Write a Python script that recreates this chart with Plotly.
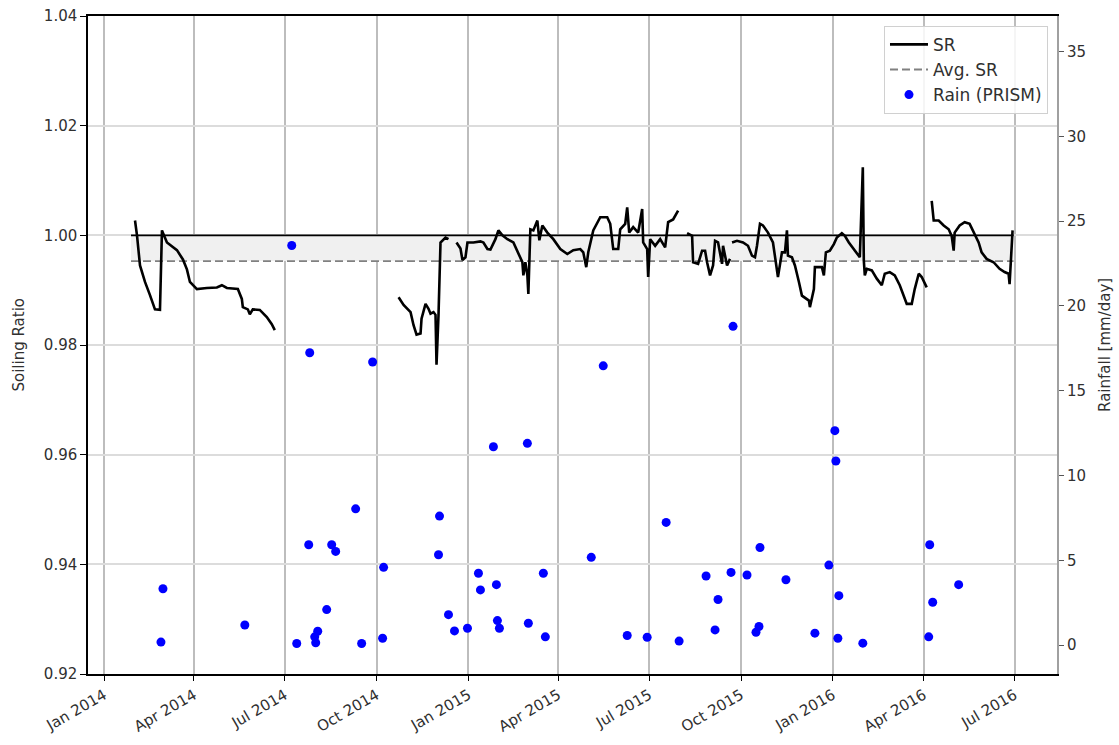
import plotly.graph_objects as go

# ---------------- data ----------------
sr_dates = [
    "2014-02-01", "2014-02-03", "2014-02-06", "2014-02-11", "2014-02-16", "2014-02-21",
    "2014-02-26", "2014-02-28", "2014-03-05", "2014-03-15", "2014-03-21", "2014-03-25",
    "2014-03-28", "2014-04-04", "2014-04-14", "2014-04-24", "2014-04-29", "2014-05-04",
    "2014-05-15", "2014-05-19", "2014-05-20", "2014-05-25", "2014-05-27", "2014-05-30",
    "2014-06-06", "2014-06-13", "2014-06-18", "2014-06-21",
    "2014-08-15",
    "2014-10-23", "2014-10-28", "2014-11-04", "2014-11-07", "2014-11-10", "2014-11-14",
    "2014-11-15", "2014-11-19", "2014-11-22", "2014-11-24", "2014-11-27", "2014-11-29",
    "2014-11-30", "2014-12-02", "2014-12-04", "2014-12-07", "2014-12-09", "2014-12-12",
    "2014-12-16",
    "2014-12-20", "2014-12-24", "2014-12-26", "2014-12-29", "2014-12-31", "2015-01-06",
    "2015-01-13", "2015-01-16", "2015-01-20", "2015-01-23", "2015-01-28", "2015-01-31",
    "2015-02-04", "2015-02-09", "2015-02-15", "2015-02-20", "2015-02-24", "2015-02-25",
    "2015-02-27", "2015-03-01", "2015-03-02", "2015-03-04", "2015-03-07", "2015-03-11",
    "2015-03-13", "2015-03-16", "2015-03-21", "2015-03-27", "2015-04-03", "2015-04-10",
    "2015-04-16", "2015-04-23", "2015-04-26", "2015-04-29", "2015-05-01", "2015-05-06",
    "2015-05-13", "2015-05-20", "2015-05-23", "2015-05-26", "2015-05-31", "2015-06-02",
    "2015-06-07", "2015-06-09", "2015-06-11", "2015-06-15", "2015-06-20", "2015-06-24",
    "2015-06-25", "2015-06-29", "2015-06-30", "2015-07-02", "2015-07-07", "2015-07-12",
    "2015-07-17", "2015-07-20", "2015-07-25", "2015-07-30",
    "2015-08-04",
    "2015-08-08", "2015-08-13", "2015-08-14", "2015-08-19", "2015-08-23", "2015-08-26",
    "2015-08-28", "2015-08-31", "2015-09-03", "2015-09-05", "2015-09-08", "2015-09-10",
    "2015-09-12", "2015-09-13", "2015-09-17", "2015-09-20",
    "2015-09-21",
    "2015-09-22", "2015-09-27", "2015-10-03", "2015-10-08", "2015-10-12", "2015-10-15",
    "2015-10-17", "2015-10-20", "2015-10-23", "2015-10-28", "2015-11-02", "2015-11-07",
    "2015-11-11", "2015-11-14", "2015-11-16", "2015-11-17", "2015-11-21", "2015-11-24",
    "2015-11-28", "2015-12-01", "2015-12-08", "2015-12-09", "2015-12-13", "2015-12-14",
    "2015-12-21", "2015-12-23", "2015-12-25", "2015-12-29", "2016-01-02", "2016-01-05",
    "2016-01-10", "2016-01-13", "2016-01-17", "2016-01-23", "2016-01-28", "2016-01-31",
    "2016-02-01", "2016-02-02", "2016-02-04", "2016-02-09", "2016-02-14", "2016-02-19",
    "2016-02-22", "2016-02-27", "2016-03-03", "2016-03-08", "2016-03-12", "2016-03-15",
    "2016-03-20", "2016-03-23", "2016-03-27", "2016-03-30", "2016-04-04",
    "2016-04-06",
    "2016-04-09", "2016-04-11", "2016-04-16", "2016-04-21", "2016-04-26", "2016-04-29",
    "2016-05-01", "2016-05-02", "2016-05-07", "2016-05-12", "2016-05-17", "2016-05-21",
    "2016-05-26", "2016-05-29", "2016-06-03", "2016-06-10", "2016-06-16", "2016-06-21",
    "2016-06-25", "2016-06-26", "2016-06-28", "2016-06-29",
]
sr_values = [
    1.0027, 1.0000, 0.9945, 0.9915, 0.9891, 0.9865,
    0.9864, 1.0009, 0.9987, 0.9973, 0.9956, 0.9938,
    0.9915, 0.9902, 0.9904, 0.9905, 0.9909, 0.9904,
    0.9902, 0.9884, 0.9869, 0.9865, 0.9856, 0.9865,
    0.9864, 0.9851, 0.9838, 0.9827,
    None,
    0.9887, 0.9873, 0.9860, 0.9836, 0.9819, 0.9821,
    0.9848, 0.9875, 0.9866, 0.9857, 0.9860, 0.9855,
    0.9764, 0.9855, 0.9987, 0.9993, 0.9996, 0.9993,
    None,
    0.9987, 0.9976, 0.9955, 0.9960, 0.9987, 0.9987,
    0.9989, 0.9987, 0.9975, 0.9974, 0.9993, 1.0009,
    1.0000, 0.9993, 0.9987, 0.9966, 0.9951, 0.9927,
    0.9951, 0.9927, 0.9893, 1.0011, 1.0009, 1.0027,
    0.9991, 1.0018, 1.0005, 0.9993, 0.9975, 0.9966,
    0.9973, 0.9975, 0.9969, 0.9942, 0.9969, 1.0009,
    1.0033, 1.0033, 1.0021, 0.9975, 0.9975, 1.0011,
    1.0021, 1.0051, 1.0005, 1.0015, 1.0005, 1.0048,
    0.9987, 0.9975, 0.9924, 0.9993, 0.9981, 0.9993,
    0.9978, 1.0024, 1.0029, 1.0045,
    None,
    1.0004, 0.9999, 0.9951, 0.9948, 0.9972, 0.9972,
    0.9951, 0.9927, 0.9945, 0.9990, 0.9987, 0.9969,
    0.9948, 0.9981, 0.9945, 0.9957,
    None,
    0.9987, 0.9990, 0.9987, 0.9981, 0.9963, 0.9960,
    0.9981, 1.0021, 1.0018, 1.0005, 0.9987, 0.9924,
    0.9969, 0.9969, 1.0009, 0.9963, 0.9960, 0.9945,
    0.9915, 0.9890, 0.9881, 0.9869, 0.9902, 0.9942,
    0.9942, 0.9927, 0.9969, 0.9972, 0.9984, 0.9996,
    1.0004, 0.9999, 0.9987, 0.9972, 0.9960, 1.0124,
    0.9954, 0.9927, 0.9939, 0.9936, 0.9921, 0.9909,
    0.9930, 0.9933, 0.9927, 0.9909, 0.9890, 0.9875,
    0.9875, 0.9902, 0.9930, 0.9924, 0.9905,
    None,
    1.0063, 1.0027, 1.0027, 1.0018, 1.0011, 0.9999,
    0.9972, 1.0005, 1.0018, 1.0024, 1.0021, 1.0005,
    0.9987, 0.9969, 0.9957, 0.9951, 0.9939, 0.9933,
    0.9930, 0.9911, 0.9987, 1.0009,
]

rain_dates = [
    "2014-02-27", "2014-03-01", "2014-05-22", "2014-07-08", "2014-07-13", "2014-07-25",
    "2014-07-26", "2014-07-31", "2014-08-01", "2014-08-03", "2014-08-12", "2014-08-17",
    "2014-08-21", "2014-09-10", "2014-09-16", "2014-09-27", "2014-10-07", "2014-10-08",
    "2014-12-02", "2014-12-03", "2014-12-12", "2014-12-18", "2014-12-31", "2015-01-11",
    "2015-01-13", "2015-01-26", "2015-01-29", "2015-01-30", "2015-02-01", "2015-03-01",
    "2015-03-02", "2015-03-17", "2015-03-19", "2015-05-04", "2015-05-16", "2015-06-09",
    "2015-06-29", "2015-07-18", "2015-07-31", "2015-08-27", "2015-09-05", "2015-09-08",
    "2015-09-21", "2015-09-23", "2015-10-07", "2015-10-16", "2015-10-19", "2015-10-20",
    "2015-11-15", "2015-12-14", "2015-12-28", "2016-01-03", "2016-01-04", "2016-01-06",
    "2016-01-07", "2016-01-31", "2016-04-06", "2016-04-07", "2016-04-10", "2016-05-06",
]
rain_values = [
    0.18, 3.33, 1.19, 23.57, 0.10, 5.92,
    17.24, 0.49, 0.14, 0.82, 2.10, 5.92,
    5.53, 8.04, 0.10, 16.70, 0.41, 4.59,
    5.33, 7.61, 1.80, 0.84, 1.00, 4.24,
    3.26, 11.70, 3.57, 1.45, 1.00, 11.90,
    1.29, 4.24, 0.49, 5.18, 16.47, 0.57,
    0.47, 7.24, 0.24, 4.08, 0.90, 2.69,
    4.29, 18.80, 4.14, 0.76, 1.10, 5.76,
    3.86, 0.71, 4.72, 12.65, 10.86, 0.41,
    2.92, 0.12, 0.49, 5.92, 2.53, 3.57,
]

avg_sr = 0.9953
ideal_sr = 1.0
ref_dates = ["2014-01-28", "2016-06-30"]

x_tick_dates = ["2014-01-01", "2014-04-01", "2014-07-01", "2014-10-01",
                "2015-01-01", "2015-04-01", "2015-07-01", "2015-10-01",
                "2016-01-01", "2016-04-01", "2016-07-01"]
x_tick_labels = ["Jan 2014", "Apr 2014", "Jul 2014", "Oct 2014",
                 "Jan 2015", "Apr 2015", "Jul 2015", "Oct 2015",
                 "Jan 2016", "Apr 2016", "Jul 2016"]
left_ticks = [0.92, 0.94, 0.96, 0.98, 1.00, 1.02, 1.04]
right_ticks = [0, 5, 10, 15, 20, 25, 30, 35]

FONT = "DejaVu Sans"
TXT = "#303030"

fig = go.Figure()

# reference line at SR = 1
fig.add_trace(go.Scatter(x=ref_dates, y=[ideal_sr] * len(ref_dates), mode="lines",
                         line=dict(color="black", width=1.6), showlegend=False,
                         hoverinfo="skip"))
# shaded band between 1 and average SR
fig.add_trace(go.Scatter(x=ref_dates, y=[avg_sr] * len(ref_dates), mode="lines",
                         line=dict(width=0), fill="tonexty", fillcolor="#f0f0f0",
                         showlegend=False, hoverinfo="skip"))
# average SR dashed line
fig.add_trace(go.Scatter(x=ref_dates, y=[avg_sr] * len(ref_dates), mode="lines",
                         line=dict(color="#808080", width=1.8, dash="8px,4px"),
                         name="Avg. SR", legendrank=2, legendgroup="g2"))
# SR series
fig.add_trace(go.Scatter(x=sr_dates, y=sr_values, mode="lines",
                         line=dict(color="black", width=2.6), connectgaps=False,
                         name="SR", legendrank=1, legendgroup="g1"))
# rainfall
fig.add_trace(go.Scatter(x=rain_dates, y=rain_values, mode="markers", yaxis="y2",
                         marker=dict(color="#0000ff", size=9),
                         name="Rain (PRISM)", legendrank=3, legendgroup="g3"))

fig.update_layout(
    width=1119, height=745, autosize=False,
    margin=dict(l=88, r=62, t=7, b=71),
    paper_bgcolor="white", plot_bgcolor="white",
    font=dict(family=FONT, size=16, color=TXT),
    showlegend=True,
    legend=dict(x=0.9907, xanchor="right", y=0.985, yanchor="top",
                traceorder="normal",
                bgcolor="rgba(255,255,255,0.85)", bordercolor="#d0d0d0", borderwidth=1,
                font=dict(family=FONT, size=17, color=TXT), tracegroupgap=3,
                itemwidth=38),
    xaxis=dict(
        type="date", range=["2013-12-15 22:00", "2016-08-12 12:00"],
        tickvals=x_tick_dates, ticktext=x_tick_labels, tickangle=-30,
        ticks="outside", ticklen=5, tickcolor="black",
        showgrid=True, gridcolor="#bdbdbd", gridwidth=1.5,
        showline=True, linecolor="black", linewidth=1.5, mirror=True,
        zeroline=False, tickfont=dict(family=FONT, size=15, color=TXT),
    ),
    yaxis=dict(
        range=[0.92, 1.04], tickvals=left_ticks, tickformat=".2f",
        ticks="outside", ticklen=6, tickcolor="black",
        showgrid=True, gridcolor="#dcdcdc", gridwidth=1.5,
        showline=True, linecolor="black", linewidth=1.5,
        zeroline=False, tickfont=dict(family=FONT, size=15, color=TXT),
    ),
    yaxis2=dict(
        overlaying="y", side="right", range=[-1.7, 37.1], tickvals=right_ticks,
        ticks="outside", ticklen=5, tickcolor="#555555",
        showgrid=False, zeroline=False,
        showline=True, linecolor="#a0a0a0", linewidth=2,
        tickfont=dict(family=FONT, size=15, color=TXT),
    ),
    annotations=[
        dict(text="Soiling Ratio", xref="paper", yref="paper", x=-0.0717, y=0.5,
             textangle=-90, showarrow=False, xanchor="center", yanchor="middle",
             font=dict(family=FONT, size=15, color=TXT)),
        dict(text="Rainfall [mm/day]", xref="paper", yref="paper", x=1.0495, y=0.5,
             textangle=-90, showarrow=False, xanchor="center", yanchor="middle",
             font=dict(family=FONT, size=15, color=TXT)),
    ],
)

fig.write_html("out.html", config={"displayModeBar": False},
               post_script="document.body.style.margin='0';")
